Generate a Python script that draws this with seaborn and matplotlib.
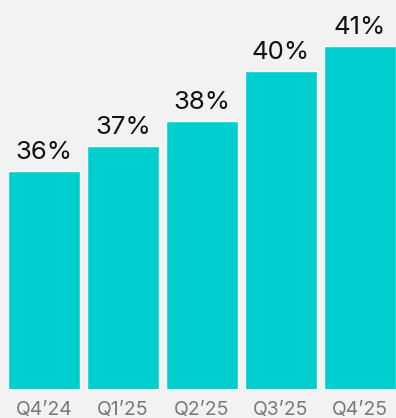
import matplotlib
matplotlib.use("Agg")
import matplotlib.pyplot as plt
import seaborn as sns
import pandas as pd

quarters = ["Q4\u201924", "Q1\u201925", "Q2\u201925", "Q3\u201925", "Q4\u201925"]
shares = [36, 37, 38, 40, 41]

bg = "#f2f2f2"
bar_color = "#00cfcf"

sns.set_theme(style="white")
plt.rcParams["font.family"] = ["Inter", "DejaVu Sans"]

df = pd.DataFrame({"quarter": quarters, "share": shares})

fig = plt.figure(figsize=(3.96, 4.18), dpi=100, facecolor=bg)
ax = fig.add_axes([0, 29 / 418, 1, 389 / 418])
ax.set_facecolor(bg)

sns.barplot(data=df, x="quarter", y="share", color=bar_color, width=0.9,
            saturation=1, ax=ax)

for i, v in enumerate(shares):
    ax.annotate(f"{v}%", (i, v), xytext=(0, 5), textcoords="offset points",
                ha="center", va="bottom", fontsize=18.5, fontweight="normal",
                color="#111111")

ax.set_ylim(27.28, 42.84)
ax.set_xlim(-0.557, 4.456)
ax.set_yticks([])
ax.set_xlabel("")
ax.set_ylabel("")
ax.tick_params(axis="x", length=0, pad=9, labelsize=14, labelcolor="#7a7a7a")
for s in ax.spines.values():
    s.set_visible(False)

fig.savefig("out.png", dpi=100, facecolor=bg)
